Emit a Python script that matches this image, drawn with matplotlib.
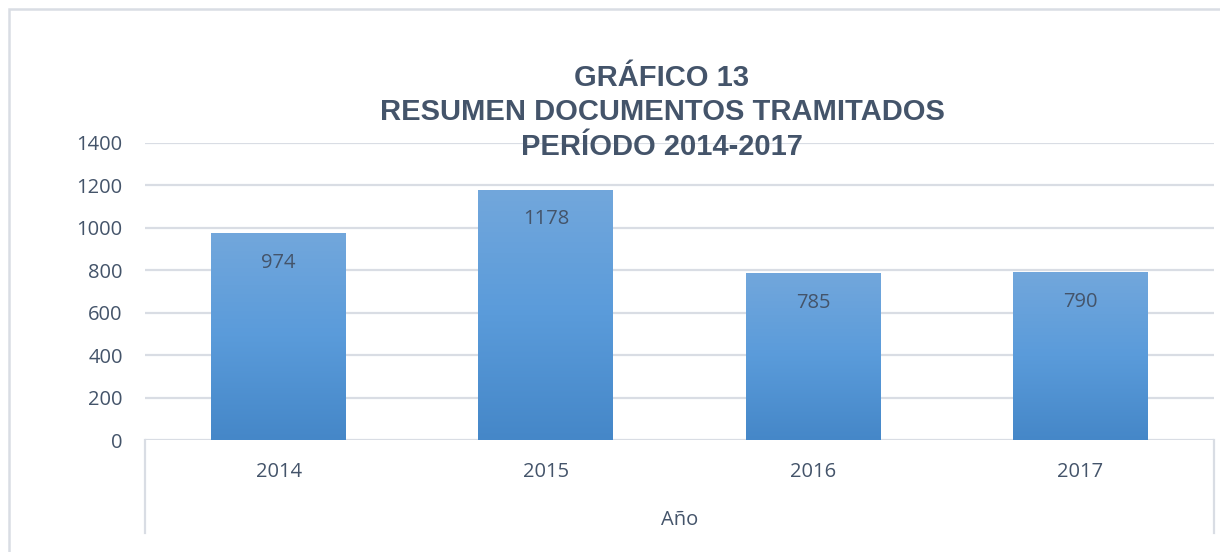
import numpy as np
import matplotlib.pyplot as plt
from matplotlib.patches import Rectangle
from matplotlib.colors import LinearSegmentedColormap
from matplotlib.lines import Line2D

# Datos del gráfico
anios = ['2014', '2015', '2016', '2017']
documentos = [974, 1178, 785, 790]
yticks = [0, 200, 400, 600, 800, 1000, 1200, 1400]

color_texto = '#44546A'
color_grid = '#D9DDE4'

plt.rcParams['font.family'] = ['Open Sans', 'DejaVu Sans']

fig = plt.figure(figsize=(12.2, 5.52), dpi=100)
ax = fig.add_axes([145 / 1220, 1 - 440 / 552, (1214 - 145) / 1220, (440 - 143) / 552])

# Borde exterior del gráfico (solo visible arriba e izquierda)
fig.patches.append(Rectangle((9 / 1220, -0.1), 1.2, 1 - 9 / 552 + 0.1, transform=fig.transFigure,
                             fill=False, edgecolor=color_grid, linewidth=1.8))

x = np.arange(len(anios))
barras = ax.bar(x, documentos, width=0.505, color='none', zorder=2)

# Degradado vertical en cada barra
cmap = LinearSegmentedColormap.from_list('azul', ['#4587C8', '#5A9BDA', '#72A7DC'])
grad = np.linspace(0, 1, 256).reshape(-1, 1)
for b in barras:
    x0, y0, w, h = b.get_x(), b.get_y(), b.get_width(), b.get_height()
    im = ax.imshow(grad, cmap=cmap, origin='lower', aspect='auto',
                   extent=(x0, x0 + w, y0, y0 + h), zorder=2)
    im.set_clip_path(b)

# Etiquetas de valores
for xi, v in zip(x, documentos):
    ax.annotate(str(v), (xi, v), xytext=(0, -21), textcoords='offset points',
                ha='center', va='center', fontsize=14.5, color=color_texto, zorder=3)

ax.set_xlim(-0.5, len(anios) - 0.5)
ax.set_ylim(0, 1400)
ax.set_yticks(yticks)
ax.set_xticks(x)
ax.set_xticklabels(anios)
ax.tick_params(axis='both', length=0, labelsize=14.5, colors=color_texto)
ax.tick_params(axis='y', pad=16)
ax.tick_params(axis='x', pad=16)
ax.grid(axis='y', color=color_grid, linewidth=1.6, zorder=0)
ax.set_axisbelow(True)
for s in ax.spines.values():
    s.set_visible(False)
ax.axhline(0, color=color_grid, linewidth=1.8, zorder=1)

# Líneas verticales del eje de categorías
for xa in (0, 1):
    ax.add_line(Line2D([xa, xa], [0, -(533 - 440) / 297], transform=ax.transAxes,
                       color=color_grid, linewidth=1.6, clip_on=False))

ax.set_xlabel('Año', fontsize=14.5, color=color_texto, labelpad=20)

fig.text(662 / 1220, 1 - 112.5 / 552, 'GRÁFICO 13\nRESUMEN DOCUMENTOS TRAMITADOS\nPERÍODO 2014-2017',
         ha='center', va='center', fontsize=21, fontweight='bold', color=color_texto,
         family='Liberation Sans', linespacing=1.28)

fig.savefig('out.png', dpi=100, facecolor='white')
